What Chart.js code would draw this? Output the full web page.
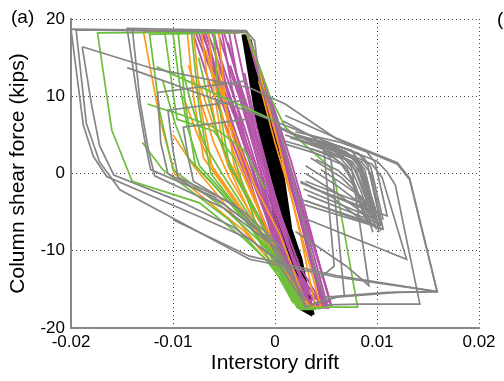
<!DOCTYPE html>
<html>
<head>
<meta charset="utf-8">
<script src="https://cdn.jsdelivr.net/npm/chart.js@4.4.0/dist/chart.umd.min.js"></script>
<style>
  body { margin: 0; background: #fff; }
  canvas { display: block; }
</style>
</head>
<body>
<canvas id="chart" width="504" height="381"></canvas>
<script>
// tick labels
const xTickLabels = ['-0.02', '-0.01', '0', '0.01', '0.02'];
const yTickLabels = ['-20', '-10', '0', '10', '20'];

// hysteresis loops, one polyline per entry: [drift, shear (kips)]
const grayLoops = [
  [[-0.0028,18.4],[-0.0200,18.7],[-0.0188,6.3],[-0.0178,2.2],[-0.0165,-0.4],[-0.0074,-5.6],[-0.0025,-8.5],[0.0015,-12.4],[0.0030,-17.4]],
  [[-0.0028,18.3],[-0.0195,18.6],[-0.0185,6.5],[-0.0172,1.5],[-0.0152,-2.1],[-0.0025,-11.1],[0.0060,-13.4],[0.0159,-15.3]],
  [[-0.0189,16.4],[-0.0180,9.0],[-0.0172,3.6],[-0.0158,-0.2],[-0.0090,-3.8],[-0.0040,-7.0],[0.0000,-11.0],[0.0030,-17.0]],
  [[-0.0189,16.4],[-0.0120,13.6],[-0.0025,11.1],[0.0010,9.0],[0.0060,4.5],[0.0120,1.2],[0.0132,-0.8],[0.0159,-15.3],[0.0110,-15.4],[0.0050,-16.0]],
  [[-0.0028,18.5],[-0.0145,18.8],[-0.0135,10.0],[-0.0128,4.5],[-0.0122,0.5],[-0.0060,-3.0],[-0.0010,-8.0],[0.0030,-16.5]],
  [[-0.0140,18.8],[-0.0132,9.0],[-0.0124,3.0],[-0.0118,-0.3],[-0.0050,-4.5],[0.0000,-9.5],[0.0025,-15.5]],
  [[-0.0145,13.7],[-0.0025,8.0],[0.0030,5.2],[0.0100,1.6],[0.0110,0.2],[0.0118,-1.5],[0.0142,-16.9],[0.0083,-16.9],[0.0050,-17.0]],
  [[-0.0028,12.0],[-0.0115,10.5],[-0.0112,4.0],[-0.0105,0.0],[-0.0050,-4.0],[0.0000,-9.0],[0.0028,-16.0]],
  [[-0.0028,9.5],[-0.0105,8.2],[-0.0100,3.0],[-0.0095,-0.5],[-0.0040,-4.0],[0.0010,-11.0]],
  [[-0.0028,7.0],[-0.0090,6.0],[-0.0085,2.0],[-0.0080,-1.0],[-0.0030,-5.0],[0.0010,-10.0]],
  [[-0.0028,18.4],[-0.0020,17.2],[-0.0015,11.9],[0.0002,6.6],[0.0020,-2.0],[0.0040,-13.0],[0.0050,-16.5]],
  [[0.0010,7.5],[0.0060,4.6],[0.0120,1.4],[0.0132,-0.6],[0.0159,-15.3],[0.0120,-15.4],[0.0060,-16.0],[0.0035,-17.0]],
  [[0.0005,5.8],[0.0060,3.2],[0.0095,1.2],[0.0105,-0.5],[0.0129,-11.1],[0.0025,-5.6]],
  [[0.0010,5.0],[0.0055,3.0],[0.0085,1.5],[0.0094,0.0],[0.0106,-7.2],[0.0030,-3.5]],
  [[0.0015,4.6],[0.0050,3.3],[0.0078,2.2],[0.0088,0.5],[0.0100,-6.0],[0.0028,-2.0]],
  [[0.0010,4.2],[0.0045,2.8],[0.0070,1.8],[0.0080,0.3],[0.0095,-5.0],[0.0025,-1.2]],
  [[0.0020,4.8],[0.0060,3.6],[0.0082,2.6],[0.0091,1.0],[0.0104,-6.6],[0.0032,-2.8]],
  [[0.0015,5.2],[0.0050,4.0],[0.0075,3.0],[0.0084,1.2],[0.0098,-4.5],[0.0030,-1.0]],
  [[0.0010,3.8],[0.0040,2.6],[0.0065,1.2],[0.0074,-0.5],[0.0090,-6.2],[0.0022,-3.2]],
  [[0.0020,5.4],[0.0065,4.0],[0.0090,2.8],[0.0098,1.5],[0.0110,-5.5],[0.0035,-1.8]],
  [[0.0025,4.2],[0.0060,2.5],[0.0076,1.5],[0.0086,-0.5],[0.0102,-7.0],[0.0028,-4.0]],
  [[0.0005,6.0],[0.0045,3.5],[0.0055,1.8],[0.0068,-15.8],[0.0045,-16.5],[0.0030,-17.3]],
  [[0.0010,5.5],[0.0065,2.5],[0.0075,0.8],[0.0092,-14.5],[0.0070,-12.0],[0.0020,-7.5]],
  [[-0.0100,-6.0],[-0.0025,-10.7],[0.0060,-13.2],[0.0159,-15.3]],
  [[0.0008,6.8],[0.0040,4.5],[0.0048,3.0],[0.0058,-12.0],[0.0040,-14.0]],
  [[0.0030,4.6],[0.0052,3.8],[0.0070,2.8],[0.0080,1.6],[0.0092,-4.0],[0.0098,-6.8]],
  [[0.0035,4.4],[0.0058,3.4],[0.0074,2.2],[0.0083,0.8],[0.0096,-5.2],[0.0104,-7.4]],
  [[0.0040,4.0],[0.0062,3.0],[0.0078,1.8],[0.0086,0.2],[0.0100,-6.4]],
  [[0.0045,4.2],[0.0066,3.4],[0.0086,2.2],[0.0094,0.8],[0.0106,-6.0]],
  [[0.0050,3.6],[0.0068,2.8],[0.0082,1.4],[0.0090,-1.0],[0.0102,-7.6]],
  [[0.0035,3.2],[0.0054,2.4],[0.0066,1.2],[0.0076,-1.0],[0.0088,-5.8]],
  [[0.0040,3.0],[0.0058,2.0],[0.0070,0.8],[0.0079,-1.6],[0.0092,-6.6]],
  [[0.0030,1.0],[0.0060,-1.5],[0.0090,-4.5],[0.0104,-6.8]],
  [[0.0030,0.0],[0.0060,-2.5],[0.0085,-5.0],[0.0100,-7.2]],
  [[0.0035,2.0],[0.0065,-0.5],[0.0088,-3.5],[0.0098,-5.2]],
  [[0.0025,-1.0],[0.0055,-3.0],[0.0080,-5.5],[0.0095,-6.6]],
  [[0.0040,1.8],[0.0062,0.4],[0.0075,-1.2],[0.0086,-3.5],[0.0096,-7.6]],
  [[0.0048,3.0],[0.0064,2.0],[0.0076,0.2],[0.0084,-2.2],[0.0094,-6.0]],
  [[0.0055,3.4],[0.0072,2.4],[0.0084,1.0],[0.0092,-2.0],[0.0103,-6.4]],
  [[0.0045,0.5],[0.0068,-1.5],[0.0084,-3.0],[0.0097,-6.0]],
  [[0.0060,2.6],[0.0074,1.6],[0.0081,-0.4],[0.0090,-3.6],[0.0099,-7.0]]
];

const greenLoops = [
  [[-0.0028,18.3],[-0.0174,18.2],[-0.0160,5.6],[-0.0140,-1.0],[-0.0074,-3.8],[-0.0030,-8.5],[0.0010,-13.5],[0.0025,-17.6],[0.0040,-17.6]],
  [[-0.0028,18.3],[-0.0123,18.0],[-0.0113,8.0],[-0.0100,0.5],[-0.0050,-4.5],[-0.0005,-10.0],[0.0022,-17.4],[0.0045,-17.5]],
  [[-0.0028,18.4],[-0.0095,18.2],[-0.0088,9.0],[-0.0078,1.0],[-0.0035,-5.0],[0.0000,-11.0],[0.0025,-17.3]],
  [[-0.0028,18.4],[-0.0082,18.3],[-0.0074,8.0],[-0.0063,0.0],[-0.0025,-6.5],[0.0018,-16.8]],
  [[-0.0028,18.4],[-0.0005,10.0],[0.0010,6.0],[0.0054,0.8],[0.0059,-1.0],[0.0081,-17.3],[0.0050,-17.3],[0.0030,-17.5]],
  [[-0.0116,13.8],[-0.0025,8.3],[0.0005,6.5]],
  [[-0.0028,18.3],[-0.0060,18.2],[-0.0055,9.0],[-0.0045,1.0],[-0.0015,-6.0],[0.0022,-17.0],[0.0035,-17.2]],
  [[-0.0028,18.4],[-0.0108,18.2],[-0.0100,10.5],[-0.0096,7.0],[-0.0060,5.5],[-0.0040,2.0],[-0.0020,-6.0],[0.0015,-15.5]],
  [[-0.0028,18.3],[-0.0100,18.1],[-0.0094,12.0],[-0.0086,6.0],[-0.0074,1.0],[-0.0040,-4.0],[-0.0005,-10.5],[0.0020,-17.0]],
  [[-0.0110,12.0],[-0.0098,6.5],[-0.0085,2.0],[-0.0060,-1.5],[-0.0030,-6.0],[0.0005,-12.0],[0.0028,-17.5]],
  [[-0.0092,14.0],[-0.0082,9.0],[-0.0070,4.0],[-0.0052,0.0],[-0.0025,-5.5],[0.0010,-13.0],[0.0030,-17.6]],
  [[-0.0130,4.0],[-0.0110,0.5],[-0.0080,-2.5],[-0.0045,-6.0],[-0.0010,-11.0],[0.0020,-16.0]],
  [[-0.0125,9.0],[-0.0090,7.5],[-0.0060,6.0],[-0.0030,3.0],[-0.0010,-2.0]],
  [[-0.0075,15.0],[-0.0066,10.0],[-0.0056,5.0],[-0.0042,0.5],[-0.0018,-5.0],[0.0012,-13.5]]
];

const orangeLoops = [
  [[-0.0028,18.3],[-0.0129,18.4],[-0.0113,7.0],[-0.0098,-0.1],[-0.0074,-2.7],[-0.0030,-7.5],[0.0010,-13.5],[0.0026,-17.4],[0.0040,-17.5]],
  [[-0.0028,18.3],[-0.0086,18.3],[-0.0080,10.0],[-0.0070,2.0],[-0.0040,-3.5],[-0.0005,-10.5],[0.0022,-17.3],[0.0038,-17.4]],
  [[-0.0028,18.4],[-0.0080,18.2],[-0.0072,8.0],[-0.0062,1.0],[-0.0030,-5.0],[0.0010,-13.0],[0.0024,-17.0]],
  [[-0.0028,18.4],[-0.0065,18.2],[-0.0060,10.5],[-0.0050,3.0],[-0.0025,-4.0],[0.0010,-12.0],[0.0030,-17.2],[0.0045,-17.3]],
  [[-0.0028,18.4],[-0.0055,18.1],[-0.0048,8.0],[-0.0040,1.0],[-0.0015,-6.0],[0.0020,-15.0],[0.0032,-17.1]],
  [[-0.0065,14.0],[-0.0055,11.5],[-0.0045,7.0],[-0.0035,3.5],[-0.0020,-1.5],[0.0005,-8.0],[0.0030,-16.8]],
  [[-0.0075,12.0],[-0.0060,6.0],[-0.0045,1.5],[-0.0030,-2.0],[-0.0005,-8.5],[0.0028,-16.0]],
  [[0.0040,-17.5],[0.0025,-8.0],[0.0005,3.0],[-0.0018,14.5],[-0.0028,18.3]],
  [[-0.0028,18.4],[-0.0072,18.2],[-0.0066,12.0],[-0.0058,6.0],[-0.0046,1.0],[-0.0025,-5.0],[0.0005,-11.5],[0.0025,-16.5]],
  [[-0.0060,17.0],[-0.0052,11.0],[-0.0042,5.0],[-0.0030,0.5],[-0.0010,-6.5],[0.0015,-13.5],[0.0035,-17.3]],
  [[-0.0085,14.0],[-0.0072,9.0],[-0.0060,4.0],[-0.0045,-0.5],[-0.0020,-6.0],[0.0010,-13.0],[0.0030,-17.0]],
  [[-0.0068,16.0],[-0.0058,11.0],[-0.0050,6.5],[-0.0040,2.5],[-0.0022,-3.0],[0.0002,-10.0],[0.0024,-16.0]],
  [[-0.0090,10.0],[-0.0076,5.0],[-0.0060,0.5],[-0.0035,-4.5],[-0.0005,-10.5],[0.0020,-16.5]],
  [[-0.0100,5.0],[-0.0080,1.0],[-0.0055,-3.0],[-0.0025,-8.0],[0.0005,-13.0],[0.0028,-17.2]],
  [[0.0045,-17.3],[0.0032,-11.0],[0.0018,-4.0],[0.0000,4.0],[-0.0016,12.0]]
];

const magentaLoops = [
  [[-0.0028,18.4],[-0.0081,18.4],[-0.0065,12.0],[-0.0045,5.0],[-0.0025,-1.5],[-0.0005,-8.0],[0.0030,-17.3],[0.0052,-17.4],[0.0040,-11.5],[0.0015,0.0],[-0.0010,11.0],[-0.0028,18.4]],
  [[-0.0028,18.4],[-0.0075,18.3],[-0.0060,12.5],[-0.0042,5.5],[-0.0022,-1.0],[0.0000,-8.5],[0.0032,-17.4],[0.0050,-17.3],[0.0036,-11.0],[0.0012,0.5],[-0.0012,11.5],[-0.0028,18.4]],
  [[-0.0028,18.4],[-0.0068,18.3],[-0.0055,12.0],[-0.0038,5.0],[-0.0018,-2.0],[0.0005,-9.5],[0.0035,-17.4],[0.0055,-17.0],[0.0042,-11.0],[0.0018,-0.5],[-0.0008,11.0],[-0.0028,18.4]],
  [[-0.0028,18.4],[-0.0060,18.3],[-0.0048,11.5],[-0.0032,4.5],[-0.0014,-2.5],[0.0008,-10.0],[0.0036,-17.2],[0.0048,-16.8],[0.0032,-9.0],[0.0008,2.0],[-0.0015,12.5],[-0.0028,18.4]],
  [[-0.0028,18.4],[-0.0052,18.2],[-0.0042,11.0],[-0.0028,4.0],[-0.0010,-3.0],[0.0010,-10.5],[0.0034,-17.0],[0.0046,-16.5],[0.0030,-8.0],[0.0006,3.0],[-0.0016,13.0],[-0.0028,18.4]],
  [[-0.0028,18.3],[-0.0045,18.2],[-0.0035,11.0],[-0.0022,4.0],[-0.0005,-3.5],[0.0015,-11.5],[0.0032,-16.5],[0.0044,-16.0],[0.0028,-7.5],[0.0004,3.5],[-0.0018,13.5],[-0.0028,18.3]],
  [[-0.0028,18.4],[-0.0070,18.3],[-0.0062,14.0],[-0.0050,9.5],[-0.0036,4.0],[-0.0020,-1.5],[0.0002,-9.0],[0.0028,-16.8]],
  [[-0.0028,18.4],[-0.0040,18.2],[-0.0030,12.0],[-0.0015,3.0],[0.0000,-4.0],[0.0018,-11.5],[0.0040,-17.0],[0.0054,-16.5],[0.0045,-12.5],[0.0020,-2.0],[-0.0005,8.5],[-0.0028,18.4]],
  [[-0.0035,10.0],[-0.0020,3.0],[-0.0005,-4.5],[0.0015,-12.0],[0.0030,-17.0]],
  [[-0.0040,8.0],[-0.0025,2.0],[-0.0008,-5.5],[0.0012,-12.5]],
  [[-0.0030,13.0],[-0.0018,6.0],[-0.0002,-2.0],[0.0020,-12.0],[0.0036,-17.2]],
  [[-0.0078,18.3],[-0.0062,13.0],[-0.0046,7.0],[-0.0030,1.0],[-0.0012,-6.0],[0.0012,-13.5],[0.0030,-17.2]],
  [[-0.0072,18.3],[-0.0058,13.5],[-0.0040,7.5],[-0.0026,2.0],[-0.0008,-5.0],[0.0015,-13.0],[0.0034,-17.3]],
  [[-0.0066,18.3],[-0.0052,13.0],[-0.0036,7.0],[-0.0020,1.0],[-0.0004,-6.0],[0.0018,-13.5],[0.0038,-17.3]],
  [[-0.0062,18.3],[-0.0046,12.0],[-0.0030,6.0],[-0.0016,0.0],[0.0000,-6.5],[0.0020,-13.0],[0.0042,-17.2]],
  [[-0.0056,18.3],[-0.0042,12.5],[-0.0026,6.5],[-0.0012,0.5],[0.0004,-6.0],[0.0022,-12.5],[0.0045,-17.0]],
  [[-0.0050,18.2],[-0.0038,13.0],[-0.0024,7.5],[-0.0010,1.5],[0.0006,-5.5],[0.0024,-12.0],[0.0046,-16.8]],
  [[-0.0046,17.0],[-0.0034,11.0],[-0.0020,5.0],[-0.0006,-1.0],[0.0010,-8.0],[0.0028,-14.0],[0.0048,-17.2]],
  [[-0.0058,15.0],[-0.0044,9.5],[-0.0032,4.5],[-0.0018,-1.5],[-0.0002,-8.5],[0.0016,-14.5],[0.0032,-17.4]],
  [[-0.0064,15.5],[-0.0050,10.0],[-0.0036,4.0],[-0.0022,-2.0],[-0.0006,-9.0],[0.0012,-15.0],[0.0026,-17.3]],
  [[-0.0044,14.0],[-0.0030,8.5],[-0.0016,2.5],[-0.0002,-4.0],[0.0014,-10.0],[0.0032,-15.5],[0.0050,-17.0]],
  [[0.0055,-17.2],[0.0044,-12.0],[0.0030,-5.0],[0.0016,1.5],[0.0000,8.0],[-0.0016,14.0],[-0.0028,18.4]],
  [[0.0050,-17.0],[0.0040,-12.5],[0.0026,-6.0],[0.0012,0.5],[-0.0004,7.5],[-0.0020,14.5]],
  [[0.0046,-16.5],[0.0034,-11.0],[0.0022,-4.5],[0.0008,2.5],[-0.0008,9.5],[-0.0022,15.5]]
];

const blackLoops = [
  [[-0.0031,18.0],[-0.0018,7.6],[-0.0007,0.0],[0.0002,-7.2],[0.0008,-11.1],[0.0018,-15.0],[0.0025,-17.4],[0.0037,-18.3]],
  [[-0.0030,17.9],[-0.0016,7.6],[-0.0005,0.0],[0.0004,-7.2],[0.0010,-11.1],[0.0020,-15.0],[0.0028,-17.4]],
  [[-0.0029,17.8],[-0.0014,7.6],[-0.0003,0.0],[0.0006,-7.2],[0.0013,-11.1],[0.0022,-15.0],[0.0030,-17.5]],
  [[-0.0028,17.7],[-0.0012,7.6],[-0.0001,0.0],[0.0008,-7.2],[0.0016,-11.1],[0.0024,-15.0],[0.0032,-17.6]],
  [[-0.0027,17.6],[-0.0010,7.6],[0.0001,0.0],[0.0010,-7.2],[0.0018,-11.1],[0.0026,-15.0],[0.0034,-17.8]],
  [[-0.0026,17.4],[-0.0008,7.6],[0.0004,0.0],[0.0012,-7.2],[0.0021,-11.1],[0.0028,-15.0],[0.0036,-18.0]],
  [[-0.0025,17.3],[-0.0005,7.6],[0.0007,0.0],[0.0015,-7.2],[0.0025,-11.1],[0.0031,-15.0],[0.0037,-18.3]]
];

const seriesColors = {
  gray: '#858585',
  green: '#6cbf3c',
  orange: '#fb9a1c',
  magenta: '#b553a8',
  black: '#000000'
};

function toDatasets(loops, color, width) {
  return loops.map(loop => ({
    data: loop.map(p => ({ x: p[0], y: p[1] })),
    showLine: true,
    borderColor: color,
    borderWidth: width,
    pointRadius: 0,
    tension: 0,
    fill: false
  }));
}

const datasets = [
  ...toDatasets(grayLoops, seriesColors.gray, 1.7),
  ...toDatasets(greenLoops, seriesColors.green, 1.7),
  ...toDatasets(orangeLoops, seriesColors.orange, 1.7),
  ...toDatasets(magentaLoops, seriesColors.magenta, 1.9),
  ...toDatasets(blackLoops, seriesColors.black, 4)
];

const panelLabels = {
  id: 'panelLabels',
  afterDraw(chart) {
    const ctx = chart.ctx;
    ctx.save();
    ctx.fillStyle = '#000';
    ctx.font = '19px "Liberation Sans", Arial, sans-serif';
    ctx.textBaseline = 'middle';
    ctx.textAlign = 'left';
    ctx.fillText('(a)', 11, 18);
    ctx.fillText('(', 497, 20);
    ctx.restore();
  }
};

const font = { family: '"Liberation Sans", Arial, sans-serif', size: 17 };

new Chart(document.getElementById('chart'), {
  type: 'scatter',
  data: { datasets: datasets },
  options: {
    responsive: false,
    animation: false,
    layout: { padding: { left: 0, right: 25, top: 19, bottom: 0 } },
    plugins: { legend: { display: false }, tooltip: { enabled: false } },
    scales: {
      x: {
        min: -0.02,
        max: 0.02,
        afterFit: (scale) => { scale.height = 53; },
        afterBuildTicks: (scale) => {
          scale.ticks = xTickLabels.map(t => ({ value: parseFloat(t) }));
        },
        ticks: {
          color: '#000',
          font: font,
          padding: 4,
          maxRotation: 0,
          callback: (v, i) => xTickLabels[i]
        },
        grid: {
          color: '#444',
          lineWidth: 1,
          drawTicks: false
        },
        border: { color: '#888', width: 2, dash: [1, 3] },
        title: {
          display: true,
          text: 'Interstory drift',
          color: '#000',
          font: { family: font.family, size: 21 },
          padding: { top: 0, bottom: 5 }
        }
      },
      y: {
        min: -20,
        max: 20,
        afterFit: (scale) => { scale.width = 71; },
        afterBuildTicks: (scale) => {
          scale.ticks = yTickLabels.map(t => ({ value: parseFloat(t) }));
        },
        ticks: {
          color: '#000',
          font: font,
          padding: 6,
          callback: (v, i) => yTickLabels[i]
        },
        grid: {
          color: '#444',
          lineWidth: 1,
          drawTicks: false
        },
        border: { color: '#888', width: 2, dash: [1, 3] },
        title: {
          display: true,
          text: 'Column shear force (kips)',
          color: '#000',
          font: { family: font.family, size: 21 },
          padding: { top: 6, bottom: 0 }
        }
      }
    }
  },
  plugins: [panelLabels]
});
</script>
</body>
</html>
